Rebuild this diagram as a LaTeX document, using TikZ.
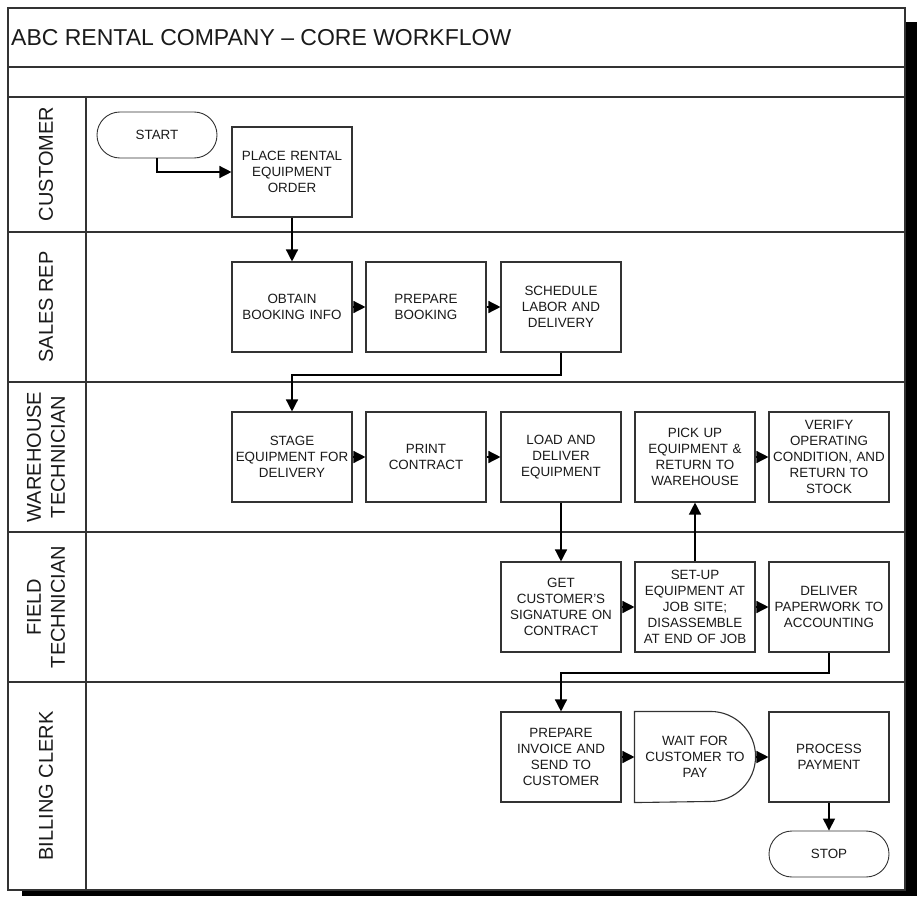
\documentclass[tikz,border=0pt]{standalone}
\usepackage{fontspec}
\setmainfont{Liberation Sans}
\usetikzlibrary{arrows.meta,calc}
\definecolor{ln}{HTML}{333333}
\definecolor{tx}{HTML}{1A1A1A}
\begin{document}
\begin{tikzpicture}[x=1pt,y=-1pt,
  stepbox/.style={draw=ln,line width=1.1pt,minimum width=120pt,minimum height=90pt,inner sep=1pt,
    align=center,text width=118pt,font=\fontsize{13.4}{16}\selectfont,text=tx},
  termbox/.style={draw=ln,line width=0.9pt,minimum width=120pt,minimum height=46pt,rounded corners=22.9pt,
    align=center,font=\fontsize{13.4}{16}\selectfont,text=tx},
  lanelabel/.style={rotate=90,align=center,font=\fontsize{20}{24}\selectfont,text=tx},
  frameline/.style={draw=ln,line width=1.1pt},
  flow/.style={draw=black,line width=1.4pt,-{Triangle[length=12pt,width=12pt]}}]
\useasboundingbox (0,0) rectangle (917,896);
% shadow and frame
\fill[black] (22,22) rectangle (917,896);
\fill[white] (8,8) rectangle (905,890);
\draw[frameline] (8,8) rectangle (905,890);
\draw[frameline] (8,67) -- (905,67);
\draw[frameline] (8,97) -- (905,97);
\draw[frameline] (8,232) -- (905,232);
\draw[frameline] (8,382) -- (905,382);
\draw[frameline] (8,532) -- (905,532);
\draw[frameline] (8,682) -- (905,682);
\draw[frameline] (86,97) -- (86,890);
% title and lane labels
\node[anchor=west,font=\fontsize{23}{27}\selectfont,text=tx,inner sep=0pt] (title) at (11,38) {ABC RENTAL COMPANY – CORE WORKFLOW};
\node[lanelabel] (lcust) at (46,164) {CUSTOMER};
\node[lanelabel] (lsales) at (46,307) {SALES REP};
\node[lanelabel] (lware) at (46,457) {WAREHOUSE\\TECHNICIAN};
\node[lanelabel] (lfield) at (46,607) {FIELD\\TECHNICIAN};
\node[lanelabel] (lbill) at (46,786) {BILLING CLERK};
% nodes
\node[termbox] (start) at (157,135) {START};
\node[stepbox] (place) at (292,172) {PLACE RENTAL\\EQUIPMENT\\ORDER};
\node[stepbox] (obtain) at (292,307) {OBTAIN\\BOOKING INFO};
\node[stepbox] (prep) at (426,307) {PREPARE\\BOOKING};
\node[stepbox] (sched) at (561,307) {SCHEDULE\\LABOR AND\\DELIVERY\\[-6pt]};
\node[stepbox] (stage) at (292,457) {STAGE\\EQUIPMENT FOR\\DELIVERY};
\node[stepbox] (print) at (426,457) {PRINT\\CONTRACT\\[-6pt]};
\node[stepbox] (load) at (561,457) {LOAD AND\\DELIVER\\EQUIPMENT};
\node[stepbox] (pick) at (695,457) {PICK UP\\EQUIPMENT \&\\RETURN TO\\WAREHOUSE};
\node[stepbox] (verify) at (829,457) {VERIFY\\OPERATING\\CONDITION, AND\\RETURN TO\\STOCK};
\node[stepbox] (get) at (561,607) {GET\\CUSTOMER’S\\SIGNATURE ON\\CONTRACT};
\node[stepbox] (setup) at (695,607) {SET-UP\\EQUIPMENT AT\\JOB SITE;\\DISASSEMBLE\\AT END OF JOB};
\node[stepbox] (deliv) at (829,607) {DELIVER\\PAPERWORK TO\\ACCOUNTING};
\node[stepbox] (inv) at (561,757) {PREPARE\\INVOICE AND\\SEND TO\\CUSTOMER};
\node[stepbox,draw=none] (wait) at (695,757) {WAIT FOR\\CUSTOMER TO\\PAY\\[-4pt]};
\draw[draw=ln,line width=1.1pt] (wait.north west) -- ($(wait.north east)+(-45,0)$)
  arc[start angle=90,end angle=-90,radius=45pt] -- (wait.south west) -- cycle;
\node[stepbox] (proc) at (829,757) {PROCESS\\PAYMENT\\[-4pt]};
\node[termbox] (stop) at (829,854) {STOP};
% helper coordinates
\coordinate (k1) at (426,375);
\coordinate (k2) at (695,673);
% connectors
\draw[flow] (start.south) |- (place.west);
\draw[flow] (place.south) -- (obtain.north);
\draw[flow] (obtain.east) -- (prep.west);
\draw[flow] (prep.east) -- (sched.west);
\draw[flow] (sched.south) |- (k1) -| (stage.north);
\draw[flow] (stage.east) -- (print.west);
\draw[flow] (print.east) -- (load.west);
\draw[flow] (load.south) -- (get.north);
\draw[flow] (get.east) -- (setup.west);
\draw[flow] (setup.north) -- (pick.south);
\draw[flow] (pick.east) -- (verify.west);
\draw[flow] (setup.east) -- (deliv.west);
\draw[flow] (deliv.south) |- (k2) -| (inv.north);
\draw[flow] (inv.east) -- (wait.west);
\draw[flow] (wait.east) -- (proc.west);
\draw[flow] (proc.south) -- (stop.north);
\end{tikzpicture}
\end{document}
